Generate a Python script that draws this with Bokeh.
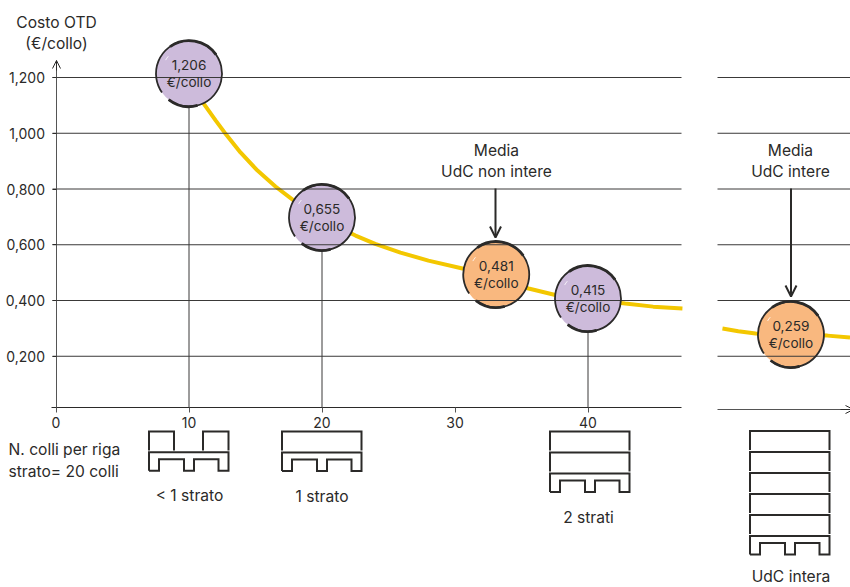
from math import pi
from bokeh.plotting import figure
from bokeh.models import Range1d, LinearAxis, FixedTicker, Arrow, OpenHead
from bokeh.core.properties import value
from bokeh.embed import file_html
from bokeh.resources import INLINE

# ---------- data ----------
y_ticks = [0.2, 0.4, 0.6, 0.8, 1.0, 1.2]
y_tick_labels = ["0,200", "0,400", "0,600", "0,800", "1,000", "1,200"]
x_ticks = [0, 10, 20, 30, 40]
x_tick_labels = ["0", "10", "20", "30", "40"]

curve_x = [10.8, 11.09, 12.0, 12.67, 13.87, 15.15, 16.5, 17.86, 20.0, 22.52, 24.0, 25.9, 28.0, 30.56, 33.0, 35.53, 37.7, 40.0, 42.8, 44.9, 47.1]
curve_y = [1.14, 1.107, 1.046, 1.003, 0.931, 0.866, 0.809, 0.759, 0.69, 0.633, 0.603, 0.572, 0.543, 0.515, 0.478, 0.443, 0.418, 0.404, 0.389, 0.378, 0.371]
curve2_x = [50.11, 51.3, 52.6, 55.26, 58.0, 59.7]
curve2_y = [0.2996, 0.29, 0.282, 0.278, 0.274, 0.267]

point_x = [10, 20, 33.1, 40, 55.26]
point_y = [1.214, 0.698, 0.493, 0.407, 0.278]
point_labels = ["1,206", "0,655", "0,481", "0,415", "0,259"]
point_unit = ["€/collo"] * 5
point_colors = ["#cdbbdb", "#cdbbdb", "#f9b87f", "#cdbbdb", "#f9b87f"]
stem_x = [10, 20, 40]
stem_top = [1.093, 0.578, 0.287]

font = "Inter"
ink = "#2b2a29"
W, H = 850, 587

# ---------- picture layout helpers (page pixels to axis units) ----------
X0, XS = 55.5, 13.3
Y0, YS = 411.5, 278.75
def dx(px): return (px - X0) / XS
def dy(py): return (Y0 - py) / YS

p = figure(width=W, height=H, output_backend="svg", toolbar_location=None,
           x_range=Range1d(dx(0), dx(W)), y_range=Range1d(dy(H), dy(0)),
           x_axis_type=None, y_axis_type=None, min_border=0,
           outline_line_color=None, background_fill_color="white")
p.grid.visible = False

base1 = dy(406.7)
base2 = dy(409)

# axes
ya = LinearAxis(fixed_location=0, ticker=FixedTicker(ticks=y_ticks),
                major_label_overrides=dict(zip(y_ticks, y_tick_labels)),
                bounds=(base1, dy(60)), axis_line_color="#555555", axis_line_width=1,
                major_tick_in=0, major_tick_out=4, major_tick_line_color=ink,
                minor_tick_line_color=None, major_label_standoff=7,
                major_label_text_font=font, major_label_text_font_size="14px",
                major_label_text_color=ink)
p.add_layout(ya, "left")
xa = LinearAxis(fixed_location=base1, ticker=FixedTicker(ticks=x_ticks),
                major_label_overrides=dict(zip(x_ticks, x_tick_labels)),
                bounds=(dx(51), dx(681)), axis_line_color=ink, axis_line_width=1,
                major_tick_in=0, major_tick_out=5, major_tick_line_color="#555555",
                minor_tick_line_color=None, major_label_standoff=5,
                major_label_text_font=font, major_label_text_font_size="14px",
                major_label_text_color=ink)
p.add_layout(xa, "below")

# curve and stems
p.line(curve_x, curve_y, line_color="#f3c700", line_width=4)
p.line(curve2_x, curve2_y, line_color="#f3c700", line_width=4)
p.segment(stem_x, [base1] * 3, stem_x, stem_top, line_color="#3a3938", line_width=1)

# points
R = 33
p.scatter(point_x, point_y, size=2 * R, fill_color=point_colors, line_color=None)

# grid lines, over the circles
gx0 = [dx(52)] * 6 + [dx(717)] * 6
gx1 = [dx(681)] * 6 + [dx(850)] * 6
gy = y_ticks + y_ticks
p.segment(gx0, gy, gx1, gy, line_color="#3a3938", line_width=1)
p.segment([dx(717)], [base2], [dx(850)], [base2], line_color="#555555", line_width=1)

# outline of the circles, hand-drawn look
d = pi / 180
p.arc(point_x, point_y, radius=R, radius_units="screen", start_angle=232 * d, end_angle=575 * d,
      line_color=ink, line_width=1.8)
p.arc(point_x, point_y, radius=R, radius_units="screen", start_angle=232 * d, end_angle=285 * d,
      line_color=ink, line_width=2.8)
p.arc(point_x, point_y, radius=R, radius_units="screen", start_angle=35 * d, end_angle=125 * d,
      line_color=ink, line_width=2.8)
p.arc(point_x, point_y, radius=R - 6, radius_units="screen", start_angle=140 * d, end_angle=150 * d,
      line_color="white", line_width=1, line_alpha=0.8)

# point labels
p.text(point_x, point_y, text=point_labels, text_font=value(font), text_font_size="13.6px",
       text_color=ink, text_align="center", text_baseline="middle", y_offset=-8.5)
p.text(point_x, point_y, text=point_unit, text_font=value(font), text_font_size="13.6px",
       text_color=ink, text_align="center", text_baseline="middle", y_offset=8.5)

# arrows
def arrow(x0, y0, x1, y1, size, width, color=ink):
    p.add_layout(Arrow(end=OpenHead(size=size, line_color=color, line_width=width),
                       x_start=dx(x0), y_start=dy(y0), x_end=dx(x1), y_end=dy(y1),
                       line_color=color, line_width=width))
arrow(495, 188, 495, 237, 11, 2)
arrow(790.5, 188, 790.5, 296, 11, 2)
arrow(56, 70, 56, 60, 8, 1)
arrow(840, 409, 853, 409, 8, 1)

# pallets
def pallet(left, top_boxes, pal_top, boxes):
    r = left + 79.5
    bottom = pal_top + 18.5
    inner = pal_top + 7
    xs = [left, left, r, r, r - 10, r - 10, left + 45, left + 45, left + 35, left + 35, left + 10, left + 10, left]
    ys = [bottom, pal_top, pal_top, bottom, bottom, inner, inner, bottom, bottom, inner, inner, bottom, bottom]
    p.line([dx(v) for v in xs], [dy(v) for v in ys], line_color=ink, line_width=2, line_join="miter")
    for t in top_boxes:
        for a, b in boxes:
            p.line([dx(left + a), dx(left + a), dx(left + b), dx(left + b)],
                   [dy(t + 19), dy(t), dy(t), dy(t + 19)],
                   line_color=ink, line_width=2, line_join="miter")

pallet(148.5, [431], 451.7, [(0, 25), (54, 79.5)])
pallet(281.5, [431], 452, [(0, 79.5)])
pallet(549.5, [431, 452], 473, [(0, 79.5)])
pallet(749.5, [430.5, 451.5, 472.5, 493.5, 514.5], 535.5, [(0, 79.5)])

# free texts
def txt(px, py, s, align="center", size="15.6px"):
    p.text([dx(px)], [dy(py)], text=[s], text_font=value(font), text_font_size=size,
           text_color=ink, text_align=align, text_baseline="middle")

txt(56, 22, "Costo OTD")
txt(56, 43, "(€/collo)")
txt(496, 150, "Media")
txt(496, 171, "UdC non intere")
txt(790, 150, "Media")
txt(790, 171, "UdC intere")
txt(8, 449, "N. colli per riga", "left")
txt(8, 471, "strato= 20 colli", "left")
txt(189, 495, "< 1 strato")
txt(321.5, 496, "1 strato")
txt(588, 517, "2 strati")
txt(790.5, 575.5, "UdC intera")

open("out.html", "w").write(file_html(p, INLINE))
